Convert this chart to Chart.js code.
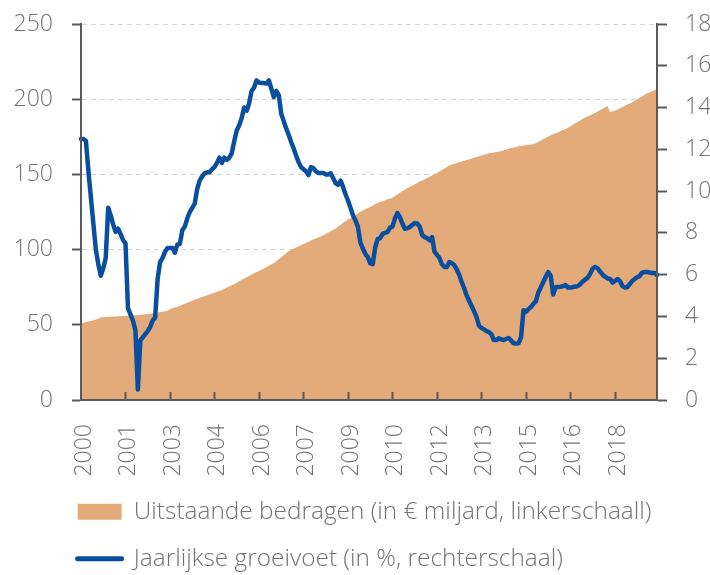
<!DOCTYPE html>
<html>
<head>
<meta charset="utf-8">
<script src="https://cdn.jsdelivr.net/npm/chart.js@4.4.1/dist/chart.umd.min.js"></script>
<style>
  html, body { margin: 0; padding: 0; background: #fff; }
  #wrap { width: 710px; height: 575px; }
</style>
</head>
<body>
<div id="wrap"><canvas id="kredieten"></canvas></div>
<script>
// maanden jan 2000 - jun 2019
var months = [];
for (var y = 2000; y <= 2019; y++) {
  for (var m = 1; m <= 12; m++) {
    if (y === 2019 && m > 6) break;
    months.push(y + "-" + (m < 10 ? "0" + m : m));
  }
}

// uitstaande bedragen, in € miljard (linkerschaal)
var bedragen = [
  51.0, 51.4, 51.8, 52.2, 52.6, 53.0, 53.5, 54.0, 55.0, 55.1, 55.2, 55.3,
  55.4, 55.5, 55.6, 55.7, 55.8, 55.9, 56.0, 56.1, 56.2, 56.3, 56.4, 56.5,
  56.6, 56.8, 57.0, 57.2, 57.4, 57.6, 57.8, 58.1, 58.4, 58.7, 59.0, 59.3,
  60.5, 61.2, 61.6, 62.0, 62.7, 63.4, 64.0, 64.7, 65.4, 66.0, 66.7, 67.3,
  68.0, 68.5, 69.0, 69.6, 70.2, 70.8, 71.5, 72.0, 72.5, 73.2, 74.0, 74.8,
  75.5, 76.3, 77.1, 77.9, 79.0, 80.0, 80.8, 81.6, 82.4, 83.3, 84.2, 85.1,
  85.8, 86.6, 87.5, 88.4, 89.3, 90.2, 91.0, 92.3, 93.6, 94.9, 96.2, 97.5,
  99.0, 99.8, 100.6, 101.4, 102.2, 103.0, 103.7, 104.4, 105.2, 106.0, 106.8, 107.4,
  108.0, 108.8, 109.6, 110.4, 111.3, 112.2, 113.0, 114.1, 115.3, 116.5, 117.7, 118.9,
  120.0, 121.0, 122.0, 123.0, 124.0, 125.0, 126.0, 126.8, 127.6, 128.4, 129.3, 130.2,
  131.0, 131.6, 132.2, 132.8, 133.4, 134.0, 134.5, 135.6, 136.7, 137.8, 138.9, 140.0,
  140.9, 141.8, 142.6, 143.5, 144.3, 145.2, 146.0, 146.8, 147.6, 148.5, 149.3, 150.2,
  151.0, 152.0, 153.0, 154.0, 155.0, 156.0, 156.5, 157.0, 157.5, 158.0, 158.5, 159.0,
  159.5, 160.0, 160.5, 161.0, 161.5, 162.0, 162.5, 163.0, 163.5, 164.0, 164.3, 164.6,
  164.9, 165.2, 165.5, 166.0, 166.5, 167.0, 167.5, 167.9, 168.3, 168.7, 169.0, 169.2,
  169.4, 169.6, 169.8, 170.0, 170.8, 171.6, 172.5, 173.4, 174.3, 175.2, 176.0, 176.7,
  177.4, 178.1, 178.8, 179.5, 180.2, 181.0, 182.0, 183.0, 184.0, 185.0, 186.0, 187.0,
  187.8, 188.6, 189.4, 190.2, 191.0, 191.9, 192.8, 193.7, 194.6, 195.5, 191.5, 192.0,
  192.5, 193.0, 194.0, 194.8, 195.6, 196.4, 197.2, 198.0, 199.0, 200.0, 201.0, 202.0,
  203.0, 204.0, 204.5, 205.3, 206.1, 207.0
];

// jaarlijkse groeivoet, in % (rechterschaal)
var groeivoet = [
  12.5, 12.5, 12.4, 10.95, 9.7, 8.45, 7.2, 6.5, 5.95, 6.3, 6.8, 9.2,
  8.85, 8.4, 8.05, 8.2, 7.95, 7.66, 7.5, 4.4, 4.1, 3.8, 3.35, 0.5,
  2.85, 3.0, 3.15, 3.3, 3.5, 3.8, 3.95, 5.8, 6.6, 6.8, 7.1, 7.28,
  7.28, 7.28, 7.05, 7.45, 7.47, 8.14, 8.3, 8.7, 9.0, 9.2, 9.4, 10.1,
  10.5, 10.7, 10.85, 10.9, 10.9, 11.05, 11.15, 11.35, 11.6, 11.35, 11.6, 11.5,
  11.6, 11.82, 12.4, 12.9, 13.15, 13.5, 14.0, 13.85, 14.2, 14.8, 14.95, 15.3,
  15.2, 15.17, 15.17, 15.15, 15.3, 14.9, 14.5, 14.8, 14.6, 13.7, 13.35, 13.0,
  12.7, 12.35, 12.05, 11.7, 11.4, 11.15, 11.05, 10.95, 10.77, 11.15, 11.1, 10.95,
  10.87, 10.87, 10.87, 10.8, 10.8, 10.85, 10.63, 10.38, 10.3, 10.5, 10.2, 9.85,
  9.55, 9.2, 8.85, 8.6, 8.3, 7.55, 7.25, 7.0, 6.85, 6.55, 6.5, 7.3,
  7.7, 7.75, 7.95, 8.0, 8.05, 8.25, 8.3, 8.7, 8.95, 8.75, 8.45, 8.2,
  8.22, 8.28, 8.38, 8.47, 8.45, 8.3, 7.9, 7.8, 7.75, 7.65, 7.8, 7.1,
  6.95, 6.8, 6.5, 6.37, 6.37, 6.6, 6.55, 6.46, 6.25, 6.0, 5.65, 5.35,
  5.0, 4.75, 4.5, 4.25, 3.97, 3.55, 3.45, 3.38, 3.3, 3.25, 3.15, 2.87,
  2.87, 2.95, 2.9, 2.87, 2.92, 2.97, 2.85, 2.72, 2.7, 2.72, 3.0, 4.3,
  4.22, 4.35, 4.45, 4.6, 4.72, 5.15, 5.4, 5.65, 5.9, 6.12, 5.95, 5.05,
  5.4, 5.41, 5.42, 5.45, 5.5, 5.38, 5.38, 5.41, 5.43, 5.45, 5.55, 5.68,
  5.77, 5.86, 6.05, 6.3, 6.37, 6.3, 6.15, 6.0, 5.9, 5.82, 5.8, 5.62,
  5.7, 5.79, 5.7, 5.45, 5.38, 5.41, 5.55, 5.7, 5.8, 5.88, 5.94, 6.1,
  6.13, 6.13, 6.1, 6.08, 6.08, 5.98
];

var oranje = "#e3ab79";
var blauw = "#0a4f9f";
var asKleur = "#5a5a5a";
var tekstKleur = "#737373";
var tickFont = { family: "'Open Sans', sans-serif", size: 23, weight: 300 };
var legendFont = { family: "'Open Sans', sans-serif", size: 24.4, weight: 300 };

// x tick marks point inwards; axis lines are redrawn on top of the area
var assenPlugin = {
  id: "assen",
  afterLayout: function (chart) {
    chart.legend.left = 55;
    chart.legend.top += 1;
  },
  afterDatasetsDraw: function (chart) {
    var ctx = chart.ctx;
    var area = chart.chartArea;
    var x = chart.scales.x;
    ctx.save();
    ctx.strokeStyle = asKleur;
    ctx.lineWidth = 2;
    ctx.beginPath();
    x.ticks.forEach(function (t, i) {
      if (t.label === null || t.label === undefined || i === 0) return;
      var px = Math.round(x.getPixelForTick(i)) + 0.5;
      ctx.moveTo(px, area.bottom);
      ctx.lineTo(px, area.bottom - 8);
    });
    ctx.moveTo(area.left, area.top);
    ctx.lineTo(area.left, area.bottom);
    ctx.lineTo(area.right, area.bottom);
    ctx.lineTo(area.right, area.top);
    ctx.stroke();
    ctx.restore();
  }
};

function geenPadding(s) {
  s.paddingTop = 0;
  s.paddingBottom = 0;
}

new Chart(document.getElementById("kredieten"), {
  type: "line",
  data: {
    labels: months,
    datasets: [
      {
        label: "Jaarlijkse groeivoet (in %, rechterschaal)",
        data: groeivoet,
        yAxisID: "y1",
        borderColor: blauw,
        borderWidth: 4.5,
        borderJoinStyle: "round",
        borderCapStyle: "round",
        pointRadius: 0,
        fill: false,
        order: 1
      },
      {
        label: "Uitstaande bedragen (in € miljard, linkerschaall)",
        data: bedragen,
        yAxisID: "y",
        backgroundColor: oranje,
        borderColor: oranje,
        borderWidth: 0,
        pointRadius: 0,
        fill: "origin",
        order: 2
      }
    ]
  },
  options: {
    responsive: true,
    maintainAspectRatio: false,
    animation: false,
    layout: { padding: { top: 24, left: 0, right: 0, bottom: 0 } },
    plugins: {
      tooltip: { enabled: false },
      legend: {
        position: "bottom",
        align: "start",
        reverse: true,
        maxHeight: 99,
        labels: {
          color: tekstKleur,
          font: legendFont,
          padding: 22.6,
          boxHeight: 16,
          usePointStyle: true,
          pointStyleWidth: 44,
          generateLabels: function (chart) {
            return chart.data.datasets.map(function (ds, i) {
              var isLijn = ds.fill === false;
              return {
                text: ds.label,
                datasetIndex: i,
                fillStyle: isLijn ? blauw : oranje,
                strokeStyle: isLijn ? blauw : oranje,
                lineWidth: isLijn ? 5 : 0,
                lineCap: "round",
                pointStyle: isLijn ? "line" : "rect",
                fontColor: tekstKleur,
                hidden: false
              };
            });
          }
        }
      }
    },
    scales: {
      x: {
        type: "category",
        offset: false,
        grid: { display: true, drawOnChartArea: false, drawTicks: false },
        border: { display: true, color: asKleur, width: 2 },
        ticks: {
          autoSkip: false,
          minRotation: 90,
          maxRotation: 90,
          padding: 24,
          labelOffset: 3,
          color: tekstKleur,
          font: tickFont,
          callback: function (val, idx) {
            return idx % 18 === 0 ? months[idx].slice(0, 4) : null;
          }
        },
        afterFit: function (s) { s.height = 76; }
      },
      y: {
        position: "left",
        min: 0,
        max: 250,
        ticks: { stepSize: 50, padding: 19, color: tekstKleur, font: tickFont },
        grid: { color: "#d4d4d4", lineWidth: 1, tickColor: asKleur, tickLength: 9, tickWidth: 2 },
        border: { display: true, color: asKleur, width: 2, dash: [5, 4] },
        afterFit: function (s) { s.width = 81; geenPadding(s); }
      },
      y1: {
        position: "right",
        min: 0,
        max: 18,
        ticks: { stepSize: 2, padding: 18, color: tekstKleur, font: tickFont },
        grid: { drawOnChartArea: false, tickColor: asKleur, tickLength: 10, tickWidth: 2 },
        border: { display: true, color: asKleur, width: 2 },
        afterFit: function (s) { s.width = 53; geenPadding(s); }
      }
    }
  },
  plugins: [assenPlugin]
});
</script>
</body>
</html>
